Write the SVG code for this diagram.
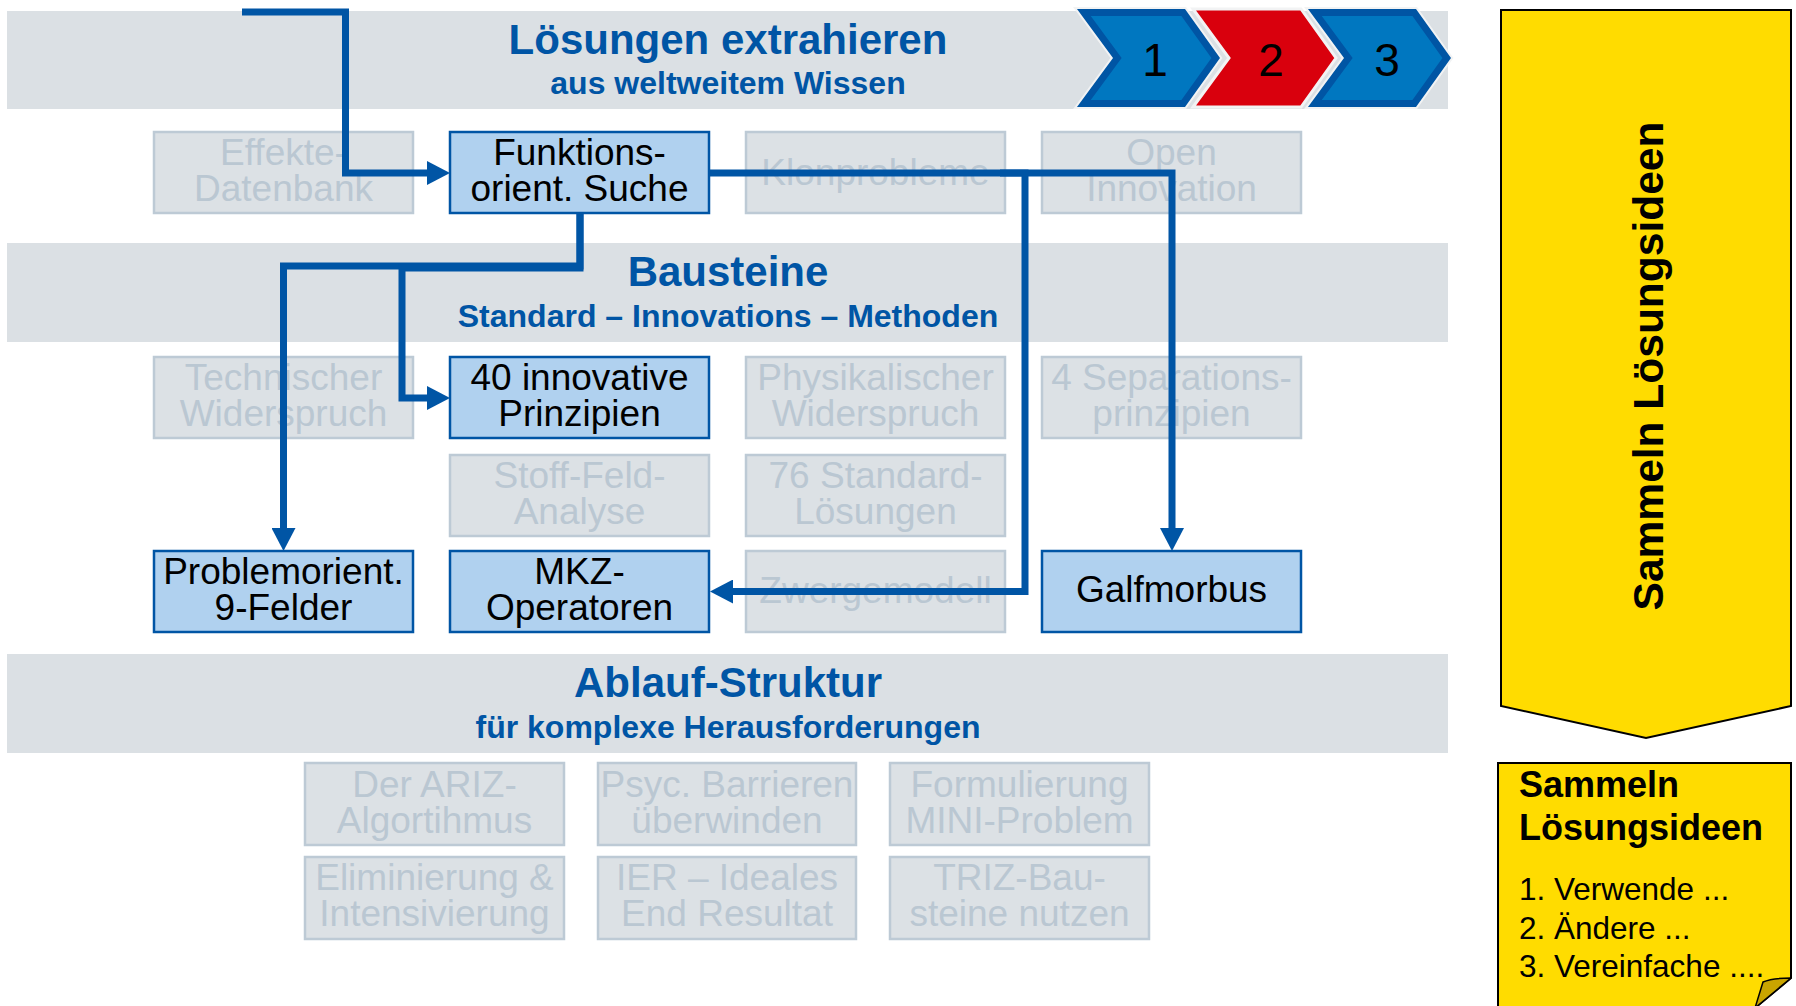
<svg xmlns="http://www.w3.org/2000/svg" width="1796" height="1006" viewBox="0 0 1796 1006">
<defs>
<style>
text{font-family:"Liberation Sans",Arial,Helvetica,sans-serif}
.band{fill:#dbe0e4}
.ttl{font-size:42px;font-weight:bold;fill:#0055a5;text-anchor:middle}
.sub{font-size:32px;font-weight:bold;fill:#0055a5;text-anchor:middle}
.gbox rect{fill:#dce1e5;stroke:#bdcad5;stroke-width:2.5}
.gbox text{font-size:37px;fill:#bac7d2;text-anchor:middle}
.bbox rect{fill:#b0d1ef;stroke:#0055a5;stroke-width:2.5}
.bbox text{font-size:37px;fill:#000;text-anchor:middle}
.conn path{fill:none;stroke:#0055a5;stroke-width:7;stroke-linejoin:miter}
.num{font-size:46px;fill:#000;text-anchor:middle}
.halo{fill:none;stroke:#f2f3f4;stroke-width:4;stroke-linejoin:miter}
</style>
<marker id="ah" viewBox="0 0 23 24" refX="0" refY="12" markerWidth="23" markerHeight="24" markerUnits="userSpaceOnUse" orient="auto">
<path d="M0,0 L23,12 L0,24 z" fill="#0055a5"/>
</marker>
</defs>
<rect width="1796" height="1006" fill="#ffffff"/>

<g id="band-loesungen">
<rect class="band" x="7" y="11" width="1441" height="98"/>
<text class="ttl" x="728" y="54" font-size="42.3">Lösungen extrahieren</text>
<text class="sub" x="728" y="94">aus weltweitem Wissen</text>
</g>
<g id="band-bausteine">
<rect class="band" x="7" y="243" width="1441" height="99"/>
<text class="ttl" x="728" y="286">Bausteine</text>
<text class="sub" x="728" y="327">Standard – Innovations – Methoden</text>
</g>
<g id="band-ablauf">
<rect class="band" x="7" y="654" width="1441" height="99"/>
<text class="ttl" x="728" y="697">Ablauf-Struktur</text>
<text class="sub" x="728" y="738">für komplexe Herausforderungen</text>
</g>

<g id="chevron-1">
<path class="halo" d="M1077,9 H1185 L1220,58 L1185,107 H1077 L1113,58 Z"/>
<path d="M1083.9,12.5 H1183.2 L1215.7,58 L1183.2,103.5 H1083.9 L1117.3,58 Z" fill="#0077c0" stroke="#0055a4" stroke-width="7"/>
<text class="num" x="1155" y="76">1</text>
</g>
<g id="chevron-2">
<path d="M1193,9 H1301 L1336,58 L1301,107 H1193 L1229,58 Z" fill="#d9000d" stroke="#f2f3f4" stroke-width="3"/>
<text class="num" x="1271" y="76">2</text>
</g>
<g id="chevron-3">
<path class="halo" d="M1308,9 H1416 L1451,58 L1416,107 H1308 L1344,58 Z"/>
<path d="M1314.9,12.5 H1414.2 L1446.7,58 L1414.2,103.5 H1314.9 L1348.3,58 Z" fill="#0077c0" stroke="#0055a4" stroke-width="7"/>
<text class="num" x="1387" y="76">3</text>
</g>

<g id="effekte-datenbank" class="gbox"><rect x="154" y="132" width="259" height="81"/><text x="283.5" y="165">Effekte-<tspan x="283.5" dy="36">Datenbank</tspan></text></g>
<g id="funktions-suche" class="bbox"><rect x="450" y="132" width="259" height="81"/><text x="579.5" y="165">Funktions-<tspan x="579.5" dy="36">orient. Suche</tspan></text></g>
<g id="klonprobleme" class="gbox"><rect x="746" y="132" width="259" height="81"/><text x="875.5" y="185">Klonprobleme</text></g>
<g id="open-innovation" class="gbox"><rect x="1042" y="132" width="259" height="81"/><text x="1171.5" y="165">Open<tspan x="1171.5" dy="36">Innovation</tspan></text></g>

<g id="technischer-widerspruch" class="gbox"><rect x="154" y="357" width="259" height="81"/><text x="283.5" y="390">Technischer<tspan x="283.5" dy="36">Widerspruch</tspan></text></g>
<g id="innovative-prinzipien" class="bbox"><rect x="450" y="357" width="259" height="81"/><text x="579.5" y="390">40 innovative<tspan x="579.5" dy="36">Prinzipien</tspan></text></g>
<g id="physikalischer-widerspruch" class="gbox"><rect x="746" y="357" width="259" height="81"/><text x="875.5" y="390">Physikalischer<tspan x="875.5" dy="36">Widerspruch</tspan></text></g>
<g id="separationsprinzipien" class="gbox"><rect x="1042" y="357" width="259" height="81"/><text x="1171.5" y="390">4 Separations-<tspan x="1171.5" dy="36">prinzipien</tspan></text></g>

<g id="stoff-feld-analyse" class="gbox"><rect x="450" y="455" width="259" height="81"/><text x="579.5" y="488">Stoff-Feld-<tspan x="579.5" dy="36">Analyse</tspan></text></g>
<g id="standard-loesungen" class="gbox"><rect x="746" y="455" width="259" height="81"/><text x="875.5" y="488">76 Standard-<tspan x="875.5" dy="36">Lösungen</tspan></text></g>

<g id="problemorient-9-felder" class="bbox"><rect x="154" y="551" width="259" height="81"/><text x="283.5" y="584">Problemorient.<tspan x="283.5" dy="36">9-Felder</tspan></text></g>
<g id="mkz-operatoren" class="bbox"><rect x="450" y="551" width="259" height="81"/><text x="579.5" y="584">MKZ-<tspan x="579.5" dy="36">Operatoren</tspan></text></g>
<g id="zwergemodell" class="gbox"><rect x="746" y="551" width="259" height="81"/><text x="875.5" y="603">Zwergemodell</text></g>
<g id="galfmorbus" class="bbox"><rect x="1042" y="551" width="259" height="81"/><text x="1171.5" y="602">Galfmorbus</text></g>

<g id="ariz-algorithmus" class="gbox"><rect x="305" y="763" width="259" height="82"/><text x="434.5" y="797">Der ARIZ-<tspan x="434.5" dy="36">Algortihmus</tspan></text></g>
<g id="psyc-barrieren" class="gbox"><rect x="598" y="763" width="258" height="82"/><text x="727" y="797">Psyc. Barrieren<tspan x="727" dy="36">überwinden</tspan></text></g>
<g id="mini-problem" class="gbox"><rect x="890" y="763" width="259" height="82"/><text x="1019.5" y="797">Formulierung<tspan x="1019.5" dy="36">MINI-Problem</tspan></text></g>
<g id="eliminierung" class="gbox"><rect x="305" y="857" width="259" height="82"/><text x="434.5" y="890">Eliminierung &amp;<tspan x="434.5" dy="36">Intensivierung</tspan></text></g>
<g id="ier" class="gbox"><rect x="598" y="857" width="258" height="82"/><text x="727" y="890">IER – Ideales<tspan x="727" dy="36">End Resultat</tspan></text></g>
<g id="triz-bausteine" class="gbox"><rect x="890" y="857" width="259" height="82"/><text x="1019.5" y="890">TRIZ-Bau-<tspan x="1019.5" dy="36">steine nutzen</tspan></text></g>

<g id="connectors" class="conn">
<path d="M242,12 H345.5 V173 H427" marker-end="url(#ah)"/>
<path d="M580,213 V266 H283.5 V528" marker-end="url(#ah)"/>
<path d="M580,213 V268 H402 V398 H427" marker-end="url(#ah)"/>
<path d="M709,173 H1172 V528" marker-end="url(#ah)"/>
<path d="M1000,173 H1025 V591.5 H733" marker-end="url(#ah)"/>
</g>

<g id="sammeln-pfeil">
<path d="M1501,10 H1791 V706 L1646,738 L1501,706 Z" fill="#ffdc00" stroke="#000" stroke-width="2"/>
<text transform="translate(1663,366) rotate(-90)" font-size="42.5" font-weight="bold" text-anchor="middle" fill="#000">Sammeln Lösungsideen</text>
</g>

<g id="sammeln-notiz">
<path d="M1498,763 H1791 V978 L1755,1008 H1498 Z" fill="#ffdc00" stroke="#000" stroke-width="2"/>
<path d="M1791,978 Q1772,978 1763,982 L1755,1008 Z" fill="#c9a500" stroke="#000" stroke-width="1.5" stroke-linejoin="round"/>
<text x="1519" y="797" font-size="36" font-weight="bold" fill="#000">Sammeln<tspan x="1519" dy="43">Lösungsideen</tspan></text>
<text x="1519" y="900" font-size="31.5" fill="#000">1. Verwende ...<tspan x="1519" dy="39">2. Ändere ...</tspan><tspan x="1519" dy="38">3. Vereinfache ....</tspan></text>
</g>
</svg>
